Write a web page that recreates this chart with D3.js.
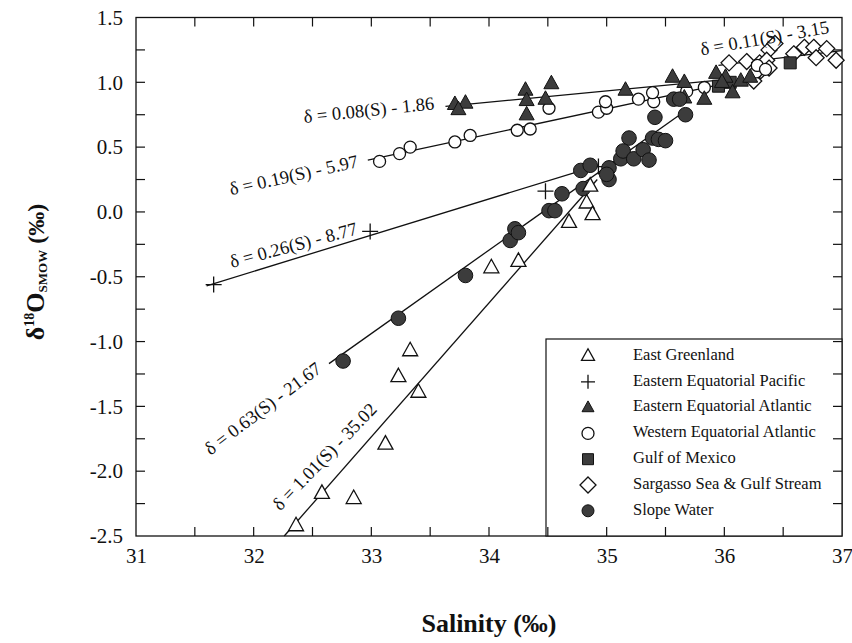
<!DOCTYPE html>
<html><head><meta charset="utf-8">
<script src="https://cdn.jsdelivr.net/npm/d3@7/dist/d3.min.js"></script>
<style>body{margin:0;background:#fff}svg{display:block}svg text{font-family:"Liberation Serif","Times New Roman",serif}</style>
</head><body><svg id="c" width="852" height="643"></svg>
<script>
// ---- data ----
const xTicks = [31,32,33,34,35,36,37];
const yTicks = [-2.5,-2.0,-1.5,-1.0,-0.5,0.0,0.5,1.0,1.5];
const seriesNames = ["East Greenland","Eastern Equatorial Pacific","Eastern Equatorial Atlantic","Western Equatorial Atlantic","Gulf of Mexico","Sargasso Sea & Gulf Stream","Slope Water"];
const eastGreenland = [[32.36,-2.42],[32.58,-2.17],[32.85,-2.21],[33.12,-1.79],[33.23,-1.27],[33.33,-1.07],[33.4,-1.39],[34.02,-0.43],[34.25,-0.38],[34.68,-0.08],[34.83,0.07],[34.88,-0.02],[34.86,0.2]];
const eastPacific = [[31.66,-0.56],[32.99,-0.15],[34.48,0.16],[34.93,0.35]];
const eastAtlantic = [[33.71,0.83],[33.8,0.84],[33.74,0.79],[34.31,0.94],[34.32,0.86],[34.32,0.75],[34.48,0.87],[34.53,0.99],[35.16,0.94],[35.56,1.04],[35.66,1.0],[35.66,0.88],[35.83,0.87],[35.93,1.07],[36.01,1.04],[36.07,0.92],[36.14,1.01],[36.22,1.04],[35.98,1.0]];
const westAtlantic = [[33.07,0.39],[33.24,0.45],[33.33,0.5],[33.71,0.54],[33.84,0.59],[34.24,0.63],[34.35,0.64],[34.51,0.8],[34.93,0.77],[35.0,0.8],[34.99,0.85],[35.27,0.87],[35.4,0.85],[35.39,0.92],[35.68,0.93],[35.83,0.96],[36.27,1.08],[36.28,1.13],[36.35,1.1]];
const gulfMexico = [[35.95,0.97],[36.05,1.0],[36.56,1.15]];
const sargasso = [[36.04,1.15],[36.19,1.16],[36.3,1.15],[36.38,1.25],[36.36,1.17],[36.38,1.11],[36.31,1.09],[36.25,1.01],[36.59,1.22],[36.68,1.27],[36.76,1.27],[36.78,1.19],[36.87,1.26],[36.95,1.17],[36.43,1.3]];
const slopeWater = [[32.76,-1.15],[33.23,-0.82],[33.8,-0.49],[34.18,-0.22],[34.22,-0.13],[34.25,-0.16],[34.51,0.01],[34.56,0.01],[34.62,0.14],[34.8,0.18],[34.78,0.32],[34.86,0.36],[35.02,0.34],[35.02,0.25],[35.0,0.29],[35.12,0.41],[35.19,0.57],[35.14,0.47],[35.23,0.41],[35.31,0.48],[35.36,0.4],[35.39,0.57],[35.44,0.56],[35.5,0.55],[35.41,0.73],[35.57,0.87],[35.67,0.75],[35.62,0.87]];
// fitted lines: [S0, d0, S1, d1]
const fitGreenland = [32.26,-2.5,34.92,0.25];
const fitSlope = [32.64,-1.17,35.7,0.8];
const fitPacific = [31.6,-0.57,34.93,0.36];
const fitWestAtl = [32.97,0.4,35.95,0.98];
const fitEastAtl = [33.63,0.815,36.0,1.02];
const fitSargasso = [35.95,1.13,37.0,1.245];
const eqLabels = ["δ = 0.08(S) - 1.86","δ = 0.19(S) - 5.97","δ = 0.26(S) - 8.77","δ = 0.63(S) - 21.67","δ = 1.01(S) - 35.02","δ = 0.11(S) - 3.15"];

// ---- layout ----
const SERIF = '"Liberation Serif","Times New Roman",serif';
const svg = d3.select("#c");
const x = d3.scaleLinear().domain([31,37]).range([136,842]);
const y = d3.scaleLinear().domain([-2.5,1.5]).range([536,17.5]);
const fillDark = "#3c3c3c";

// frame
svg.append("rect").attr("x",x(31)).attr("y",y(1.5)).attr("width",x(37)-x(31)).attr("height",y(-2.5)-y(1.5))
  .attr("fill","none").attr("stroke","#111").attr("stroke-width",1.3);

// ticks (inward) on all four sides
const g = svg.append("g").attr("stroke","#111").attr("stroke-width",1.2);
const xt = d3.range(31,37.001,0.5), yt = d3.range(-2.5,1.501,0.25);
xt.forEach(v=>{ if(v>31&&v<37){
  g.append("line").attr("x1",x(v)).attr("x2",x(v)).attr("y1",y(-2.5)).attr("y2",y(-2.5)-9);
  g.append("line").attr("x1",x(v)).attr("x2",x(v)).attr("y1",y(1.5)).attr("y2",y(1.5)+9);}});
yt.forEach(v=>{ if(v>-2.5&&v<1.5){
  g.append("line").attr("x1",x(31)).attr("x2",x(31)+9).attr("y1",y(v)).attr("y2",y(v));
  g.append("line").attr("x1",x(37)).attr("x2",x(37)-9).attr("y1",y(v)).attr("y2",y(v));}});

// tick labels via axes (no lines)
const xAxis = svg.append("g").attr("transform",`translate(0,${y(-2.5)})`)
  .call(d3.axisBottom(x).tickValues(xTicks).tickSize(0).tickPadding(12).tickFormat(d=>String(d)));
const yAxis = svg.append("g").attr("transform",`translate(${x(31)},0)`)
  .call(d3.axisLeft(y).tickValues(yTicks).tickSize(0).tickPadding(13).tickFormat(d=>d.toFixed(1)));
[xAxis,yAxis].forEach(a=>{
  a.attr("font-family",SERIF).attr("font-size",21);
  a.select(".domain").remove();
  a.selectAll("text").attr("font-size",21).attr("fill","#111").attr("font-family",SERIF).style("font-family",SERIF);});

// fit lines
const lg = svg.append("g").attr("stroke","#111").attr("stroke-width",1.3);
[fitGreenland,fitSlope,fitPacific,fitWestAtl,fitEastAtl,fitSargasso].forEach(f=>{
  lg.append("line").attr("x1",x(f[0])).attr("y1",y(f[1])).attr("x2",x(f[2])).attr("y2",y(f[3]));});

// symbol paths
function tri(s){const h=s*0.9;return `M0,${-h*0.62}L${s/2},${h*0.38}L${-s/2},${h*0.38}Z`;}
function plus(s){return `M${-s},0H${s}M0,${-s}V${s}`;}
function circ(r){return d3.arc()({innerRadius:0,outerRadius:r,startAngle:0,endAngle:2*Math.PI});}
function sq(s){return `M${-s/2},${-s/2}h${s}v${s}h${-s}Z`;}
function dia(s){return `M0,${-s}L${s},0L0,${s}L${-s},0Z`;}
const styles = [
  {d:tri(15), fill:"#fff", stroke:"#111", sw:1.3, ld:tri(13)},
  {d:plus(8), fill:"none", stroke:"#111", sw:1.3, ld:plus(7)},
  {d:tri(15), fill:fillDark, stroke:"#111", sw:1, ld:tri(12)},
  {d:circ(6), fill:"#fff", stroke:"#111", sw:1.3, ld:circ(6)},
  {d:sq(12), fill:fillDark, stroke:"#111", sw:1, ld:sq(11)},
  {d:dia(8), fill:"#fff", stroke:"#111", sw:1.3, ld:dia(8)},
  {d:circ(7.3), fill:fillDark, stroke:"#111", sw:1, ld:circ(6)}
];
const allSeries = [eastGreenland,eastPacific,eastAtlantic,westAtlantic,gulfMexico,sargasso,slopeWater];
const drawOrder = [5,4,3,2,1,6,0];
drawOrder.forEach(i=>{
  const st=styles[i];
  svg.append("g").selectAll("path").data(allSeries[i]).join("path")
    .attr("d",st.d).attr("transform",d=>`translate(${x(d[0])},${y(d[1])})`)
    .attr("fill",st.fill).attr("stroke",st.stroke).attr("stroke-width",st.sw);
});

// equation labels
const eqPos = [[369,112,-6],[294,177,-12.5],[294,247,-15],[264,410,-37],[326,458,-46],[765,40,-10]];
eqLabels.forEach((t,i)=>{
  const p=eqPos[i];
  svg.append("text").attr("transform",`translate(${p[0]},${p[1]}) rotate(${p[2]})`)
    .attr("text-anchor","middle").attr("dominant-baseline","middle").attr("font-size",18.5).attr("fill","#111")
    .style("font-family",SERIF).text(t);
});

// legend
const lgx0=546, lgy0=339;
svg.append("rect").attr("x",lgx0).attr("y",lgy0).attr("width",x(37)-lgx0).attr("height",y(-2.5)-lgy0)
  .attr("fill","#fff").attr("stroke","#111").attr("stroke-width",1.2);
yt.forEach(v=>{ if(v>-2.5 && y(v)>lgy0){
  svg.append("line").attr("x1",x(37)).attr("x2",x(37)-9).attr("y1",y(v)).attr("y2",y(v)).attr("stroke","#111").attr("stroke-width",1.2);}});
xt.forEach(v=>{ if(v>31&&v<37&&x(v)>lgx0){
  svg.append("line").attr("x1",x(v)).attr("x2",x(v)).attr("y1",y(-2.5)).attr("y2",y(-2.5)-9).attr("stroke","#111").attr("stroke-width",1.2);}});
seriesNames.forEach((n,i)=>{
  const yy = 356 + i*25.8, st=styles[i];
  svg.append("path").attr("d",st.ld).attr("transform",`translate(588,${yy})`)
    .attr("fill",st.fill).attr("stroke",st.stroke).attr("stroke-width",st.sw);
  svg.append("text").attr("x",633).attr("y",yy).attr("dominant-baseline","middle").attr("font-size",16.5).attr("fill","#111")
    .style("font-family",SERIF).text(n);
});

// axis titles
svg.append("text").attr("x",(x(31)+x(37))/2).attr("y",632).attr("text-anchor","middle")
  .attr("font-size",26).attr("font-weight","bold").attr("fill","#111").style("font-family",SERIF).text("Salinity (‰)");
const yt2 = svg.append("text").attr("transform","translate(44,272) rotate(-90)").attr("text-anchor","middle")
  .attr("fill","#111").attr("font-size",26).style("font-family",SERIF).attr("font-weight","bold");
yt2.append("tspan").text("δ");
yt2.append("tspan").attr("font-size",14).attr("dy",-10).text("18");
yt2.append("tspan").attr("dy",10).text("O");
yt2.append("tspan").attr("font-size",13).attr("dy",3).text("SMOW");
yt2.append("tspan").attr("dy",-3).attr("font-size",24).text(" (‰)");
</script></body></html>
